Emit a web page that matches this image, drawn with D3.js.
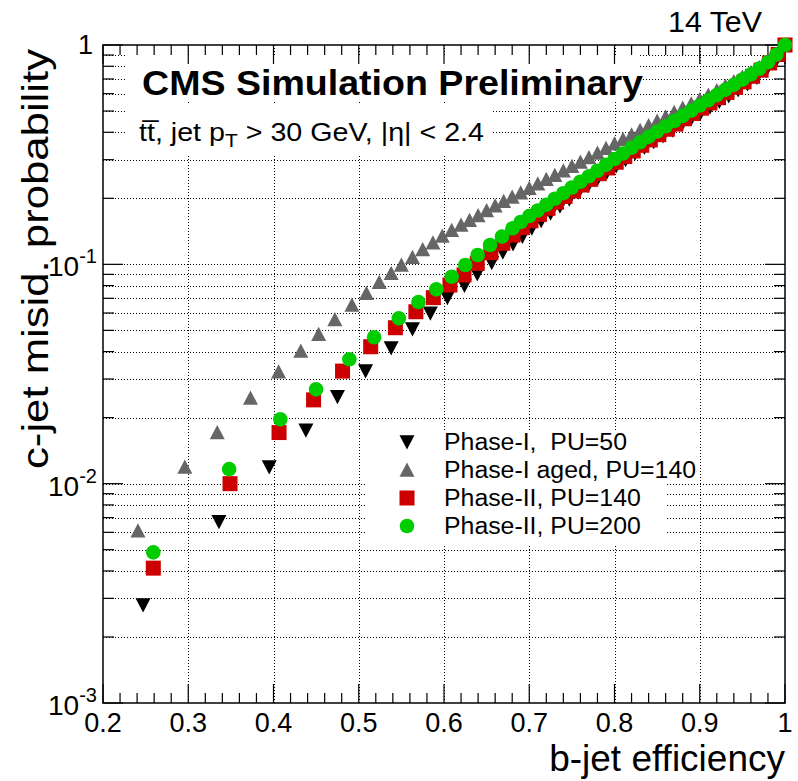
<!DOCTYPE html>
<html><head><meta charset="utf-8">
<script src="https://cdn.jsdelivr.net/npm/d3@7"></script>
<style>
body{margin:0;background:#fff}
svg{display:block}
text{font-family:"Liberation Sans",Arial,Helvetica,sans-serif;fill:#000}
</style>
</head><body>
<svg id="c" width="798" height="781"></svg>
<script>
// ---------------- data ----------------
const xMajorTicks = [0.2,0.3,0.4,0.5,0.6,0.7,0.8,0.9,1.0];
const xTickLabels = ["0.2","0.3","0.4","0.5","0.6","0.7","0.8","0.9","1"];
const yDecades = [1e-3,1e-2,1e-1,1];
const yTickLabels = [["10","-3"],["10","-2"],["10","-1"],["1",""]];

const seriesNames = ["Phase-I,  PU=50","Phase-I aged, PU=140","Phase-II, PU=140","Phase-II, PU=200"];

const phase1PU50 = [
[0.247,0.0028],[0.336,0.0067],[0.395,0.0119],[0.438,0.0175],[0.475,0.0249],[0.508,0.0326],
[0.538,0.0415],[0.563,0.0507],[0.584,0.0598],[0.604,0.0705],[0.624,0.0800],[0.639,0.0903],
[0.656,0.1017],[0.669,0.1135],[0.681,0.1238],
[0.692,0.134],[0.703,0.146],[0.714,0.158],[0.725,0.171],[0.736,0.184],[0.747,0.198],
[0.758,0.213],[0.769,0.228],[0.780,0.245],[0.791,0.262],[0.802,0.281],[0.813,0.300],
[0.824,0.320],[0.835,0.341],[0.846,0.362],[0.857,0.385],[0.868,0.409],[0.879,0.434],
[0.890,0.461],[0.901,0.490],[0.912,0.520],[0.923,0.552],[0.934,0.586],[0.945,0.623],
[0.956,0.664],[0.967,0.710],[0.978,0.765],[0.989,0.840],[1.000,1.000]
];
const phase1AgedPU140 = [
[0.241,0.0061],[0.296,0.0119],[0.334,0.0171],[0.373,0.0246],[0.406,0.0324],[0.432,0.0403],
[0.453,0.0480],[0.472,0.0561],[0.492,0.0653],[0.509,0.0738],[0.524,0.0828],[0.538,0.0910],
[0.550,0.0993],[0.563,0.1076],[0.575,0.1170],[0.587,0.1255],[0.598,0.1346],
[0.609,0.143],[0.620,0.151],[0.630,0.159],[0.640,0.167],[0.650,0.176],[0.660,0.185],
[0.670,0.194],[0.680,0.203],[0.690,0.212],[0.700,0.222],[0.710,0.233],[0.720,0.244],
[0.730,0.255],[0.740,0.267],[0.750,0.280],[0.760,0.293],[0.770,0.307],[0.780,0.322],
[0.790,0.338],[0.800,0.355],[0.810,0.372],[0.820,0.390],[0.830,0.409],[0.840,0.429],
[0.850,0.450],[0.860,0.471],[0.870,0.493],[0.880,0.516],[0.890,0.540],[0.900,0.565],
[0.910,0.592],[0.920,0.620],[0.930,0.650],[0.940,0.681],[0.950,0.714],[0.960,0.750],
[0.970,0.790],[0.980,0.840],[0.990,0.905],[1.000,1.000]
];
const phase2PU140 = [
[0.259,0.00412],[0.349,0.0100],[0.4065,0.0171],[0.447,0.0241],[0.481,0.0326],[0.514,0.0421],
[0.543,0.0514],[0.567,0.0608],[0.5875,0.0705],[0.607,0.0805],[0.6235,0.0894],[0.639,0.101],
[0.655,0.113],[0.669,0.1247],[0.681,0.136],
[0.692,0.147],[0.702,0.158],[0.712,0.169],[0.722,0.180],[0.732,0.192],[0.742,0.204],
[0.752,0.216],[0.762,0.230],[0.772,0.244],[0.782,0.259],[0.792,0.275],[0.802,0.292],
[0.812,0.310],[0.822,0.329],[0.832,0.349],[0.842,0.369],[0.852,0.390],[0.862,0.413],
[0.872,0.436],[0.882,0.461],[0.892,0.487],[0.902,0.515],[0.912,0.544],[0.922,0.575],
[0.932,0.607],[0.942,0.641],[0.952,0.679],[0.962,0.720],[0.972,0.768],[0.982,0.828],
[0.992,0.905],[1.000,1.000]
];
const phase2PU200 = [
[0.259,0.00486],[0.348,0.01166],[0.408,0.01965],[0.450,0.0269],[0.489,0.0369],[0.518,0.0465],
[0.547,0.0567],[0.570,0.0673],[0.591,0.0769],[0.609,0.0878],[0.625,0.0993],[0.6395,0.1103],
[0.654,0.1225],[0.668,0.1337],[0.6805,0.146],
[0.690,0.156],[0.700,0.166],[0.710,0.176],[0.720,0.187],[0.730,0.199],[0.740,0.211],
[0.750,0.224],[0.760,0.238],[0.770,0.252],[0.780,0.267],[0.790,0.284],[0.800,0.302],
[0.810,0.320],[0.820,0.340],[0.830,0.360],[0.840,0.381],[0.850,0.403],[0.860,0.426],
[0.870,0.450],[0.880,0.475],[0.890,0.502],[0.900,0.530],[0.910,0.560],[0.920,0.591],
[0.930,0.624],[0.940,0.658],[0.950,0.695],[0.960,0.735],[0.970,0.780],[0.980,0.835],
[0.990,0.905],[1.000,1.000]
];

// ---------------- layout ----------------
const L=103, R=785, T=45, B=703;
const svg = d3.select("#c");
const x = d3.scaleLinear().domain([0.2,1.0]).range([L,R]);
const y = d3.scaleLog().domain([1e-3,1]).range([B,T]);

function stretchTo(sel, width){
  sel.attr("textLength", width).attr("lengthAdjust","spacingAndGlyphs");
}
function stretchBy(sel, f){
  const w = sel.node().getComputedTextLength();
  stretchTo(sel, w*f);
}

const xMinor = d3.range(0.2,1.0001,0.02).map(v=>+v.toFixed(2)).filter(v=>!xMajorTicks.some(m=>Math.abs(m-v)<1e-6));
const yMinor = [];
[1e-3,1e-2,1e-1].forEach(d=>{for(let k=2;k<=9;k++) yMinor.push(d*k);});
const yGrid = yMinor.concat(yDecades.slice(1,3));

// grid
const grid = svg.append("g").attr("stroke","#000").attr("stroke-width",1).attr("stroke-dasharray","1,2");
grid.selectAll("line.v").data(xMajorTicks.slice(1,-1)).enter().append("line")
  .attr("x1",d=>Math.round(x(d))+0.5).attr("x2",d=>Math.round(x(d))+0.5).attr("y1",T).attr("y2",B);
grid.selectAll("line.h").data(yGrid).enter().append("line")
  .attr("y1",d=>Math.round(y(d))+0.5).attr("y2",d=>Math.round(y(d))+0.5).attr("x1",L).attr("x2",R);

// white boxes (text panes / legend)
const boxes = svg.append("g").attr("fill","#fff");
boxes.append("rect").attr("x",127).attr("y",55).attr("width",513).attr("height",47);
boxes.append("rect").attr("x",127).attr("y",104).attr("width",365).attr("height",50);
boxes.append("rect").attr("x",366).attr("y",431).attr("width",300).attr("height",115);

// axes frame + ticks
const ax = svg.append("g").attr("stroke","#000").attr("stroke-width",1.5);
ax.append("rect").attr("x",L).attr("y",T).attr("width",R-L).attr("height",B-T).attr("fill","none");
const tk = svg.append("g").attr("stroke","#000").attr("stroke-width",1.2);
xMajorTicks.forEach(v=>{
  tk.append("line").attr("x1",x(v)).attr("x2",x(v)).attr("y1",B).attr("y2",B-19);
  tk.append("line").attr("x1",x(v)).attr("x2",x(v)).attr("y1",T).attr("y2",T+19);
});
xMinor.forEach(v=>{
  tk.append("line").attr("x1",x(v)).attr("x2",x(v)).attr("y1",B).attr("y2",B-10);
  tk.append("line").attr("x1",x(v)).attr("x2",x(v)).attr("y1",T).attr("y2",T+10);
});
yDecades.forEach(v=>{
  tk.append("line").attr("y1",y(v)).attr("y2",y(v)).attr("x1",L).attr("x2",L+20);
  tk.append("line").attr("y1",y(v)).attr("y2",y(v)).attr("x1",R).attr("x2",R-20);
});
yMinor.forEach(v=>{
  tk.append("line").attr("y1",y(v)).attr("y2",y(v)).attr("x1",L).attr("x2",L+11);
  tk.append("line").attr("y1",y(v)).attr("y2",y(v)).attr("x1",R).attr("x2",R-11);
});

// tick labels
svg.append("g").selectAll("text").data(xMajorTicks).enter().append("text")
  .attr("x",d=>x(d)).attr("y",732).attr("text-anchor","middle").attr("font-size",27)
  .text((d,i)=>xTickLabels[i]);
const yl = svg.append("g");
yDecades.forEach((v,i)=>{
  const lab = yTickLabels[i];
  if(lab[1]===""){
    yl.append("text").attr("x",93).attr("y",y(v)+9).attr("text-anchor","end").attr("font-size",27).text(lab[0]);
  } else {
    const t = yl.append("text").attr("x",97).attr("y",y(v)+12).attr("text-anchor","end").attr("font-size",28);
    t.append("tspan").text(lab[0]);
    t.append("tspan").attr("font-size",20).attr("dy",-13).text(lab[1]);
  }
});

// axis titles
svg.append("text").attr("x",785).attr("y",771).attr("text-anchor","end").attr("font-size",37).text("b-jet efficiency");
const yt = svg.append("text").attr("transform","translate(48,49) rotate(-90)").attr("text-anchor","end").attr("font-size",37)
  .text("c-jet misid. probability");
stretchTo(yt, 420);

// header texts
const tev = svg.append("text").attr("x",762).attr("y",32).attr("text-anchor","end").attr("font-size",30).text("14 TeV");
stretchTo(tev, 94);
const cms = svg.append("text").attr("x",142).attr("y",95).attr("font-size",35).attr("font-weight","bold").text("CMS Simulation Preliminary");
stretchTo(cms, 501);
const sub = svg.append("text").attr("x",139).attr("y",141).attr("font-size",26);
sub.append("tspan").text("t");
sub.append("tspan").text("t\u0305");
sub.append("tspan").text(", jet p");
sub.append("tspan").attr("font-size",19).attr("dy",6).text("T");
sub.append("tspan").attr("dy",-6).text(" > 30 GeV, |\u03b7| < 2.4");
stretchTo(sub, 345);

// markers
const triDown = (s)=>`M${-s/2},${-s*0.45}L${s/2},${-s*0.45}L0,${s*0.5}Z`;
const triUp = (s)=>`M${-s/2},${s*0.45}L${s/2},${s*0.45}L0,${-s*0.5}Z`;
const series = [
  {data:phase1PU50, color:"#000000", shape:"down"},
  {data:phase1AgedPU140, color:"#666666", shape:"up"},
  {data:phase2PU140, color:"#cc0000", shape:"square"},
  {data:phase2PU200, color:"#00cc00", shape:"circle"}
];
function drawMarker(g, shape, color, cx, cy){
  if(shape==="down") g.append("path").attr("d",triDown(15)).attr("transform",`translate(${cx},${cy})`).attr("fill",color);
  else if(shape==="up") g.append("path").attr("d",triUp(15)).attr("transform",`translate(${cx},${cy})`).attr("fill",color);
  else if(shape==="square") g.append("rect").attr("x",cx-7.5).attr("y",cy-7.5).attr("width",15).attr("height",15).attr("fill",color);
  else g.append("circle").attr("cx",cx).attr("cy",cy).attr("r",7.3).attr("fill",color);
}
const mg = svg.append("g");
series.forEach(s=>{
  const g = mg.append("g");
  s.data.forEach(d=>drawMarker(g, s.shape, s.color, x(d[0]), y(d[1])));
});

// legend
const lg = svg.append("g");
const rowY = [442,470,498,526];
series.forEach((s,i)=>{
  drawMarker(lg, s.shape, s.color, 407, rowY[i]);
  const t = lg.append("text").attr("x",444).attr("y",rowY[i]+8).attr("font-size",23).style("white-space","pre").text(seriesNames[i]);
  stretchBy(t, 1.08);
});
</script>
</body></html>
